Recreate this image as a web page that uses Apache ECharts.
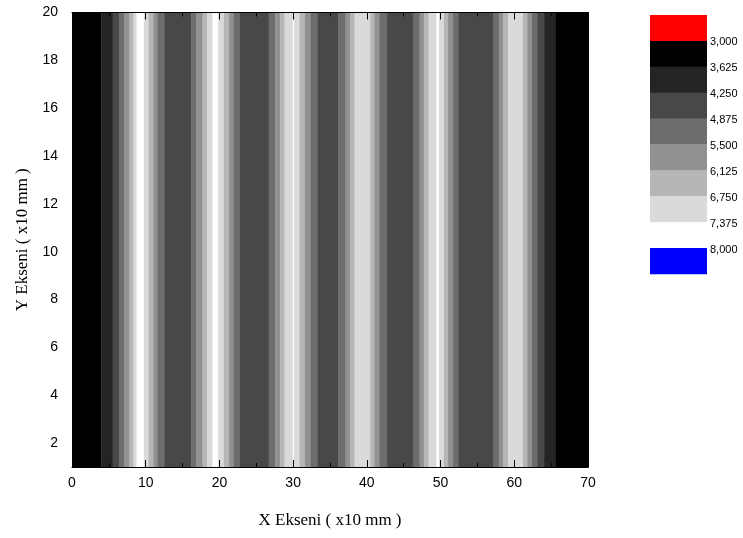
<!DOCTYPE html>
<html><head><meta charset="utf-8">
<script src="https://cdn.jsdelivr.net/npm/echarts@6/dist/echarts.min.js"></script>
<style>html,body{margin:0;padding:0;background:#fff}#c{width:743px;height:538px}</style>
</head><body><div id="c"></div>
<script>
// Profile of the field along X (the field does not vary along Y)
const profileX = [0, 3.98, 5.51, 6.42, 7.10, 7.78, 8.33, 8.77, 9.25, 9.75, 10.40, 11.04, 11.62, 12.53, 14.4,
  16.16, 16.83, 17.69, 18.30, 19.05, 19.45, 19.83, 20.61, 21.31, 21.92, 22.78, 24.7,
  26.69, 27.56, 28.24, 28.82, 29.95, 30.03, 30.11, 30.88, 31.60, 32.34, 33.34, 34.7,
  36.13, 37.10, 37.71, 38.32, 39.4, 40.46, 41.04, 41.72, 42.74, 44.5,
  46.24, 47.15, 47.73, 48.37, 49.43, 49.62, 49.80, 50.45, 51.02, 51.70, 52.44, 54.8,
  57.10, 57.90, 58.46, 59.14, 60.15, 61.17, 61.77, 62.39, 63.10, 64.05, 65.64, 70];
const profileZ = [3300, 3625, 4250, 4875, 5500, 6125, 6750, 7375, 7600, 7375, 6750, 6125, 5500, 4875, 4600,
  4875, 5500, 6125, 6750, 7375, 7600, 7375, 6750, 6125, 5500, 4875, 4600,
  4875, 5500, 6125, 6750, 7375, 7420, 7375, 6750, 6125, 5500, 4875, 4600,
  4875, 5500, 6125, 6750, 7200, 6750, 6125, 5500, 4875, 4600,
  4875, 5500, 6125, 6750, 7375, 7450, 7375, 6750, 6125, 5500, 4875, 4600,
  4875, 5500, 6125, 6750, 7200, 6750, 6125, 5500, 4875, 4250, 3625, 3300];
const yRange = [1, 20];
const levels = [3000, 3625, 4250, 4875, 5500, 6125, 6750, 7375, 8000];
const levelLabels = ['3,000', '3,625', '4,250', '4,875', '5,500', '6,125', '6,750', '7,375', '8,000'];
const bandColors = ['#ff0000', '#000000', '#242424', '#484848', '#6d6d6d', '#919191', '#b6b6b6', '#dadada', '#ffffff', '#0000ff'];
const xTicks = [0, 10, 20, 30, 40, 50, 60, 70];
const yTicks = [2, 4, 6, 8, 10, 12, 14, 16, 18, 20];

function bandOf(z) { let b = 0; for (const l of levels) if (z >= l) b++; return b; }

// Split the piecewise-linear profile into contour bands
const pieces = [];
for (let i = 0; i < profileX.length - 1; i++) {
  const x0 = profileX[i], x1 = profileX[i + 1], z0 = profileZ[i], z1 = profileZ[i + 1];
  const cuts = [x0];
  const lv = levels.filter(l => (l - z0) * (l - z1) < 0).map(l => x0 + (l - z0) / (z1 - z0) * (x1 - x0));
  lv.sort((a, b) => a - b);
  cuts.push(...lv, x1);
  for (let k = 0; k < cuts.length - 1; k++) {
    const xa = cuts[k], xb = cuts[k + 1];
    if (xb - xa <= 1e-9) continue;
    const xm = (xa + xb) / 2;
    const zm = z0 + (xm - x0) / (x1 - x0) * (z1 - z0);
    const b = bandOf(zm);
    const last = pieces[pieces.length - 1];
    if (last && last[2] === b) last[1] = xb; else pieces.push([xa, xb, b]);
  }
}

const chart = echarts.init(document.getElementById('c'), null, { renderer: 'canvas' });
const labelFont = { fontFamily: 'Liberation Sans, Arial, sans-serif', fontSize: 14, color: '#000' };
const nameFont = { fontFamily: 'Liberation Serif, Times New Roman, serif', fontSize: 17, color: '#000' };

const top0 = 15, step = 25.9, cbX = 650, cbW = 57;
const graphics = [];
bandColors.forEach((c, i) => {
  graphics.push({ type: 'rect', left: cbX, top: top0 + i * step, shape: { width: cbW, height: step + 0.3 }, style: { fill: c } });
});
levelLabels.forEach((t, i) => {
  graphics.push({ type: 'text', x: 710, y: top0 + (i + 1) * step + 1.5, style: { text: t, fill: '#000', font: '11px Liberation Sans, Arial, sans-serif', verticalAlign: 'middle', align: 'left' } });
});

const axisLine = { show: true, onZero: false, lineStyle: { color: '#000', width: 1 } };
chart.setOption({
  animation: false,
  grid: { left: 72, right: 155, top: 12.5, bottom: 71 },
  xAxis: [
    { type: 'value', min: 0, max: 70, interval: 10, position: 'bottom', z: 10,
      axisLine, splitLine: { show: false },
      axisTick: { inside: true, length: 7, lineStyle: { color: '#000' } },
      minorTick: { show: true, splitNumber: 2, length: 4, lineStyle: { color: '#000' } },
      axisLabel: Object.assign({ margin: 9, formatter: v => xTicks.includes(v) ? String(v) : '' }, labelFont),
      name: 'X Ekseni ( x10 mm )', nameLocation: 'middle', nameGap: 45, nameTextStyle: nameFont },
    { type: 'value', min: 0, max: 70, interval: 10, position: 'top', z: 10,
      axisLine, splitLine: { show: false },
      axisTick: { inside: true, length: 7, lineStyle: { color: '#000' } },
      minorTick: { show: true, splitNumber: 2, length: 4, lineStyle: { color: '#000' } },
      axisLabel: { show: false } }
  ],
  yAxis: [
    { type: 'value', min: yRange[0], max: yRange[1], interval: 1, position: 'left', z: 10,
      axisLine, splitLine: { show: false },
      axisTick: { show: false },
      axisLabel: Object.assign({ margin: 14, formatter: v => yTicks.includes(v) ? String(v) : '' }, labelFont),
      name: 'Y Ekseni ( x10 mm )', nameLocation: 'middle', nameGap: 40, nameTextStyle: nameFont },
    { type: 'value', min: yRange[0], max: yRange[1], interval: 1, position: 'right', z: 10,
      axisLine, splitLine: { show: false },
      axisTick: { inside: true, length: 4, lineStyle: { color: '#000' } },
      axisLabel: { show: false } }
  ],
  series: [{
    type: 'custom',
    xAxisIndex: 0, yAxisIndex: 0,
    data: pieces,
    encode: { x: [0, 1] },
    renderItem: function (params, api) {
      const x0 = api.value(0), x1 = api.value(1), b = api.value(2);
      const p0 = api.coord([x0, yRange[1]]);
      const p1 = api.coord([x1, yRange[0]]);
      return { type: 'rect', shape: { x: p0[0], y: p0[1], width: p1[0] - p0[0] + 0.4, height: p1[1] - p0[1] },
        style: { fill: bandColors[b] } };
    }
  }],
  graphic: graphics
});
</script>
</body></html>
